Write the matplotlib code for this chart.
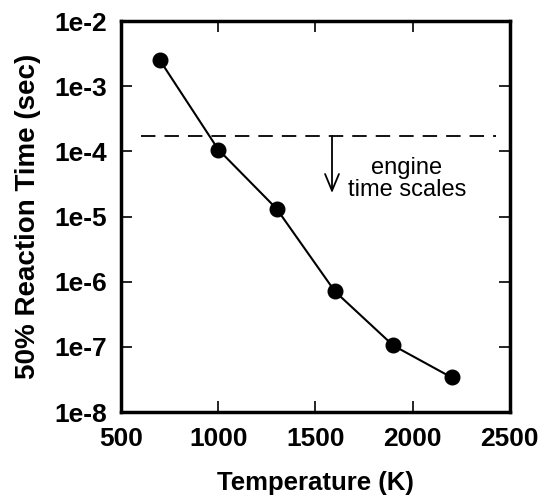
import matplotlib
matplotlib.use("Agg")
import matplotlib.pyplot as plt

# reaction time to 50% conversion vs. temperature
temperature = [700, 1000, 1300, 1600, 1900, 2200]
reaction_time = [2.5e-3, 1.07e-4, 1.32e-5, 7.1e-7, 1.05e-7, 3.4e-8]

# engine time-scale threshold and annotation
engine_limit = 1.72e-4
engine_span = [600, 2430]
arrow_x = 1585
arrow_tip = 2.3e-5

plt.rcParams["font.family"] = ["Liberation Sans", "DejaVu Sans"]

fig = plt.figure(figsize=(5.53, 5.04), dpi=100)
ax = fig.add_axes([0.219, 0.1825, 0.703, 0.7755])

ax.plot(temperature, reaction_time, color="black", lw=1.5,
        marker="o", markersize=10.5, markerfacecolor="black")
ax.plot(engine_span, [engine_limit, engine_limit], color="black", lw=1.3,
        dashes=(8, 5))
ax.annotate("", xy=(arrow_x, arrow_tip), xytext=(arrow_x, engine_limit),
            arrowprops=dict(arrowstyle="->,head_length=0.6,head_width=0.25",
                            color="black", lw=1.3, mutation_scale=20,
                            shrinkA=0, shrinkB=0))
ax.text(1970, 4.5e-5, "engine", ha="center", va="baseline", fontsize=17)
ax.text(1970, 2.07e-5, "time scales", ha="center", va="baseline", fontsize=17)

ax.set_yscale("log")
ax.set_xlim(500, 2500)
ax.set_ylim(1e-8, 1e-2)
ax.set_xticks([500, 1000, 1500, 2000, 2500])
ax.set_xticklabels(["500", "1000", "1500", "2000", "2500"])
yticks = [1e-8, 1e-7, 1e-6, 1e-5, 1e-4, 1e-3, 1e-2]
ax.set_yticks(yticks)
ax.set_yticklabels(["1e-8", "1e-7", "1e-6", "1e-5", "1e-4", "1e-3", "1e-2"])
ax.minorticks_off()
ax.tick_params(direction="in", length=8, width=1.2, top=True, right=True,
               labelsize=19)
ax.tick_params(axis="y", pad=10)
ax.tick_params(axis="x", pad=11)
for lab in ax.get_xticklabels() + ax.get_yticklabels():
    lab.set_fontweight("bold")
for sp in ax.spines.values():
    sp.set_linewidth(2.5)

ax.set_xlabel("Temperature (K)", fontsize=18.5, fontweight="bold", labelpad=14)
ax.set_ylabel("50% Reaction Time (sec)", fontsize=20, fontweight="bold",
              labelpad=10)

fig.savefig("out.png", dpi=100)
